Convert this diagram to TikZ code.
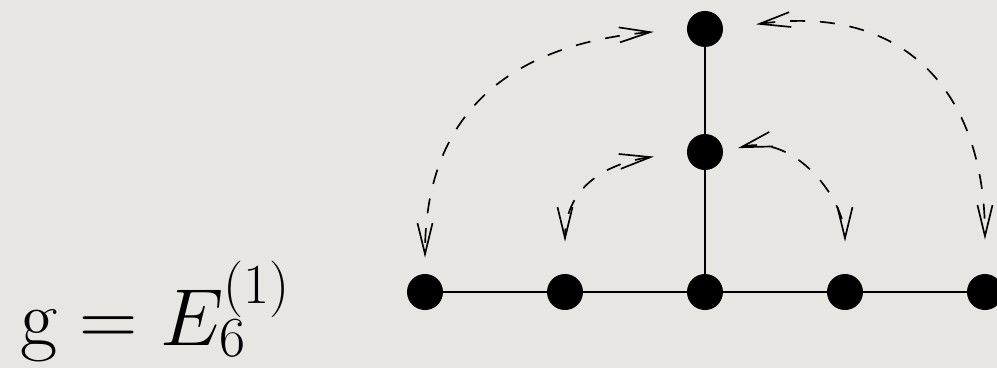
\documentclass[tikz,border=0pt]{standalone}
\usepackage{fix-cm}
\usepackage{xcolor}
\definecolor{slidegray}{HTML}{E7E6E2}
\usepackage{tikz}
\usetikzlibrary{arrows.meta}

\begin{document}
\begin{tikzpicture}[x=2.8cm,y=2.8cm,
  vertex/.style={circle,fill=black,inner sep=0pt,minimum size=0.72cm},
  bond/.style={line width=0.8pt},
  flip/.style={line width=0.95pt,dash pattern=on 8.5pt off 8.5pt,
    {Straight Barb[length=0.62cm,width=0.3cm]}-{Straight Barb[length=0.62cm,width=0.3cm]}}]
  % Background
  \fill[slidegray] (-3.036,-0.543) rectangle (4.086,2.086);
  \useasboundingbox (-3.036,-0.543) rectangle (4.086,2.086);
  % Dynkin nodes
  \node[vertex] (a1) at (0,0) {};
  \node[vertex] (a2) at (1,0) {};
  \node[vertex] (a3) at (2,0) {};
  \node[vertex] (a4) at (3,0) {};
  \node[vertex] (a5) at (4,0) {};
  \node[vertex] (a6) at (2,1) {};
  \node[vertex] (a0) at (2,1.879) {};
  % Links
  \draw[bond] (a1) -- (a2) -- (a3) -- (a4) -- (a5);
  \draw[bond] (a3) -- (a6) -- (a0);
  % Outer automorphism arrows
  \draw[flip,shorten <=0.66cm,shorten >=0.32cm]
    (a0.west) to[out=185,in=90,looseness=1.2] (a1.north);
  \draw[flip,shorten <=0.66cm,shorten >=0.68cm]
    (a0.east) to[out=8,in=90,looseness=1.3] (a5.north);
  \draw[flip,shorten <=0.66cm,shorten >=0.64cm]
    (a6.west) to[out=188,in=90,looseness=1.25] (a2.north);
  \draw[flip,shorten <=0.3cm,shorten >=0.64cm]
    (a6.east) to[out=15,in=90,looseness=1.1] (a4.north);
  % Algebra label
  \node[anchor=base west,inner sep=0pt,font=\fontsize{46}{55}\selectfont]
    (alg) at (-2.893,-0.379) {$\mathrm{g}=E_6^{(1)}$};
\end{tikzpicture}
\end{document}
